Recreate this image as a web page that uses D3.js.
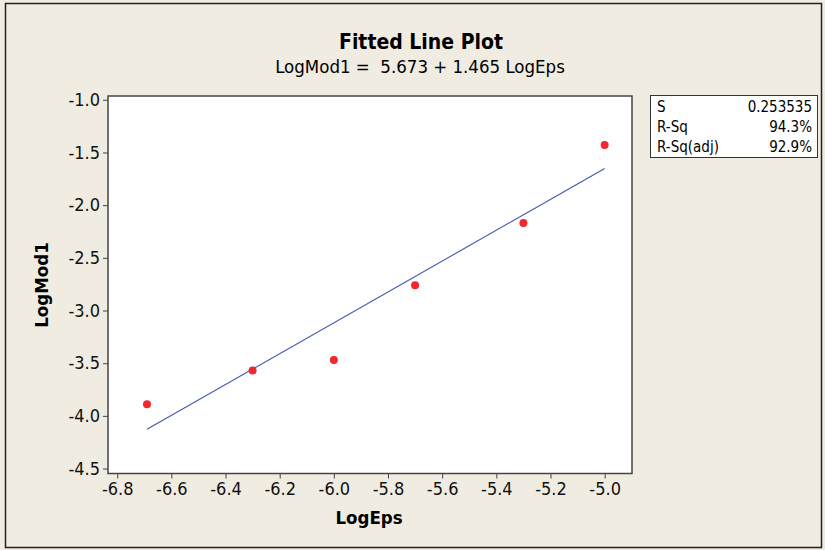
<!DOCTYPE html>
<html>
<head>
<meta charset="utf-8">
<script src="https://cdn.jsdelivr.net/npm/d3@7"></script>
<style>
	body { margin: 0; background: #f0ece2; }
	text { font-family: "DejaVu Sans Condensed", "DejaVu Sans", sans-serif; }
</style>
</head>
<body>
<script>
var logEps = [-6.69, -6.3, -6.0, -5.7, -5.3, -5.0];
var logMod1 = [-3.89, -3.57, -3.47, -2.76, -2.17, -1.43];
var xTicks = [-6.8, -6.6, -6.4, -6.2, -6.0, -5.8, -5.6, -5.4, -5.2, -5.0];
var yTicks = [-1.0, -1.5, -2.0, -2.5, -3.0, -3.5, -4.0, -4.5];
var fitB0 = 5.673, fitB1 = 1.465;
var statNames = ["S", "R-Sq", "R-Sq(adj)"];
var statValues = ["0.253535", "94.3%", "92.9%"];

var W = 825, H = 550;
var pLeft = 108, pRight = 632, pTop = 96, pBottom = 473.5;

var svg = d3.select("body")
			.append("svg")
			.attr("width", W)
			.attr("height", H);

// outer frame
svg.append("rect")
	.attr("x", 5.5).attr("y", 3.5)
	.attr("width", 816).attr("height", 544)
	.attr("fill", "#f0ece2")
	.attr("stroke", "#222")
	.attr("stroke-width", 1.5);

var x = d3.scaleLinear().domain([-6.834, -4.899]).range([pLeft, pRight]);
var y = d3.scaleLinear().domain([-0.964, -4.547]).range([pTop, pBottom]);

svg.append("rect")
	.attr("x", pLeft).attr("y", pTop)
	.attr("width", pRight - pLeft).attr("height", pBottom - pTop)
	.attr("fill", "white")
	.attr("stroke", "#444")
	.attr("stroke-width", 1.5);

// plain hyphen instead of d3's unicode minus
var fmt = function(d){ return d.toFixed(1); };

var xAxis = svg.append("g")
	.attr("transform", "translate(0," + pBottom + ")")
	.call(d3.axisBottom(x).tickValues(xTicks).tickFormat(fmt).tickSizeOuter(0).tickSize(5).tickPadding(4));

var yAxis = svg.append("g")
	.attr("transform", "translate(" + pLeft + ",0)")
	.call(d3.axisLeft(y).tickValues(yTicks).tickFormat(fmt).tickSizeOuter(0).tickSize(5).tickPadding(3));

[xAxis, yAxis].forEach(function(a){
	a.select(".domain").remove();
	a.selectAll("line").attr("stroke", "#444");
	a.selectAll("text")
		.attr("fill", "#111")
		.style("font-size", "18px")
		.style("font-family", '"DejaVu Sans Condensed", "DejaVu Sans", sans-serif');
});

// fitted line
var x0 = d3.min(logEps), x1 = d3.max(logEps);
svg.append("line")
	.attr("x1", x(x0)).attr("y1", y(fitB0 + fitB1 * x0))
	.attr("x2", x(x1)).attr("y2", y(fitB0 + fitB1 * x1))
	.attr("stroke", "#4257ad")
	.attr("stroke-width", 1.1);

svg.selectAll("circle.pt")
	.data(logEps)
	.enter()
	.append("circle")
	.attr("class", "pt")
	.attr("cx", function(d){ return x(d); })
	.attr("cy", function(d, i){ return y(logMod1[i]); })
	.attr("r", 4)
	.attr("fill", "#f0282d");

// titles
svg.append("text")
	.attr("x", 421).attr("y", 49)
	.attr("text-anchor", "middle")
	.style("font-size", "21px").style("font-weight", "bold")
	.text("Fitted Line Plot");

svg.append("text")
	.attr("x", 420).attr("y", 73)
	.attr("text-anchor", "middle")
	.style("font-size", "18.5px")
	.style("white-space", "pre")
	.text("LogMod1 =  5.673 + 1.465 LogEps");

svg.append("text")
	.attr("x", 369).attr("y", 524)
	.attr("text-anchor", "middle")
	.style("font-size", "18.5px").style("font-weight", "bold")
	.text("LogEps");

svg.append("text")
	.attr("transform", "translate(48,285) rotate(-90)")
	.attr("text-anchor", "middle")
	.style("font-size", "18.5px").style("font-weight", "bold")
	.text("LogMod1");

// stats box
svg.append("rect")
	.attr("x", 650.5).attr("y", 95.5)
	.attr("width", 167).attr("height", 62)
	.attr("fill", "white")
	.attr("stroke", "#333");

svg.selectAll("text.sn")
	.data(statNames)
	.enter()
	.append("text")
	.attr("class", "sn")
	.attr("x", 657)
	.attr("y", function(d, i){ return 112 + i * 20; })
	.style("font-size", "15px")
	.text(function(d){ return d; });

svg.selectAll("text.sv")
	.data(statValues)
	.enter()
	.append("text")
	.attr("class", "sv")
	.attr("x", 812)
	.attr("y", function(d, i){ return 112 + i * 20; })
	.attr("text-anchor", "end")
	.style("font-size", "15px")
	.text(function(d){ return d; });
</script>
</body>
</html>
